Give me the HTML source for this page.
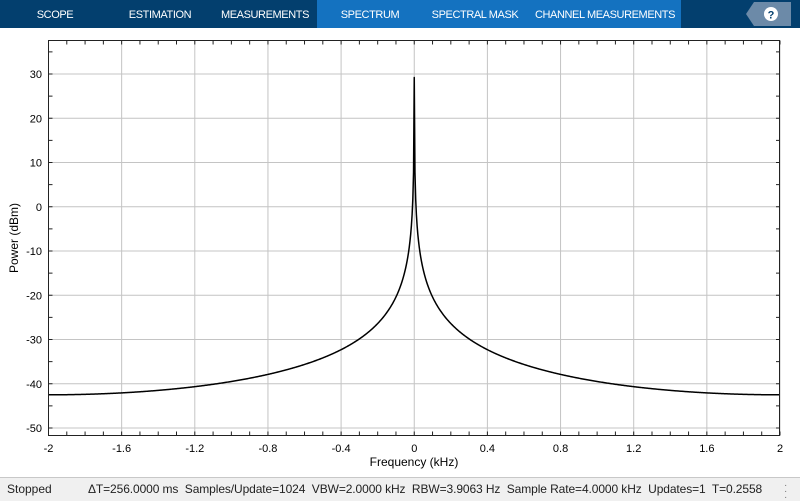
<!DOCTYPE html>
<html><head><meta charset="utf-8"><style>
body{margin:0;width:800px;height:500px;overflow:hidden;background:#fff;font-family:"Liberation Sans",sans-serif;}
#hdr{position:absolute;left:0;top:0;width:800px;height:28px;background:#033f6e;}
.tab{position:absolute;top:0;height:28px;line-height:30px;color:#fff;font-size:11px;text-align:center;white-space:nowrap;letter-spacing:-0.4px;}
#sb{position:absolute;left:0;top:477px;width:800px;height:23px;background:#f0f0f0;border-top:1px solid #c8c8c8;font-size:12px;color:#222;line-height:23px;white-space:nowrap;}
</style></head><body>
<div id="hdr">
<div style="position:absolute;left:317px;top:0;width:364px;height:28px;background:#1472c0"></div>
<div class="tab" style="left:20px;width:70px">SCOPE</div>
<div class="tab" style="left:118px;width:84px">ESTIMATION</div>
<div class="tab" style="left:215px;width:100px">MEASUREMENTS</div>
<div class="tab" style="left:330px;width:80px">SPECTRUM</div>
<div class="tab" style="left:430px;width:90px">SPECTRAL MASK</div>
<div class="tab" style="left:530px;width:150px">CHANNEL MEASUREMENTS</div>
<svg style="position:absolute;left:746px;top:2px" width="46" height="24"><polygon points="8,0 45,0 45,24 8,24 0,12" fill="#6c8aa8"/><circle cx="25" cy="12" r="7" fill="#fff"/><text x="25" y="16.5" font-size="11" font-weight="bold" text-anchor="middle" fill="#033f6e" font-family="Liberation Sans">?</text></svg>
</div>
<svg style="position:absolute;left:0;top:0" width="800" height="477" id="plot" font-family="Liberation Sans" font-size="11">
<g id="g"></g>
<path id="curve" fill="none" stroke="#000" stroke-width="1.5" stroke-linejoin="round"/>
<rect x="48.5" y="40.5" width="731" height="395" fill="none" stroke="#222" stroke-width="1"/>
<text x="414" y="466" font-size="12" text-anchor="middle">Frequency (kHz)</text>
<text transform="translate(18,238) rotate(-90)" font-size="12" text-anchor="middle">Power (dBm)</text>
</svg>
<div id="sb"><span style="position:absolute;left:7px">Stopped</span><span style="position:absolute;left:88px;letter-spacing:-0.1px">ΔT=256.0000 ms&nbsp; Samples/Update=1024&nbsp; VBW=2.0000 kHz&nbsp; RBW=3.9063 Hz&nbsp; Sample Rate=4.0000 kHz&nbsp; Updates=1&nbsp; T=0.2558</span><span style="position:absolute;left:784px;top:-1px;font-size:10px;line-height:6px;color:#777"><br>·<br>·<br>·</span></div>
<script>
var L=48.5,R=780,T=40.5,B=435.5;
function X(f){return L+(f+2)/4*(R-L);}
function Y(v){return 74+(30-v)*4.425;}
var g='';
for(var i=0;i<=10;i++){var f=-2+i*0.4,x=X(f);
 g+='<line x1="'+x+'" y1="'+T+'" x2="'+x+'" y2="'+B+'" stroke="#c4c4c4"/>';
 g+='<text x="'+x+'" y="452" text-anchor="middle">'+(Math.round(f*10)/10)+'</text>';}
for(var v=-50;v<=30;v+=10){var y=Y(v);
 g+='<line x1="'+L+'" y1="'+y+'" x2="'+R+'" y2="'+y+'" stroke="#c4c4c4"/>';
 g+='<text x="42" y="'+(y+4)+'" text-anchor="end">'+v+'</text>';}
for(var i=0;i<=40;i++){var x=X(-2+i*0.1);
 g+='<line x1="'+x+'" y1="'+T+'" x2="'+x+'" y2="'+(T+4)+'" stroke="#222"/><line x1="'+x+'" y1="'+B+'" x2="'+x+'" y2="'+(B-4)+'" stroke="#222"/>';}
for(var v=-50;v<=35;v+=5){var y=Y(v);
 g+='<line x1="'+L+'" y1="'+y+'" x2="'+(L+4)+'" y2="'+y+'" stroke="#222"/><line x1="'+R+'" y1="'+y+'" x2="'+(R-4)+'" y2="'+y+'" stroke="#222"/>';}
document.getElementById('g').innerHTML=g;
var d='';
for(var k=-512;k<=512;k++){var f=k*4/1024,v;
 if(k==0)v=29.2;else{var s=Math.sin(Math.PI*f/4);v=-42.5-10*Math.log10(s*s);if(v>29.2)v=29.2;}
 d+=(k==-512?'M':'L')+X(f).toFixed(2)+','+Y(v).toFixed(2);}
document.getElementById('curve').setAttribute('d',d);
</script>
</body></html>
